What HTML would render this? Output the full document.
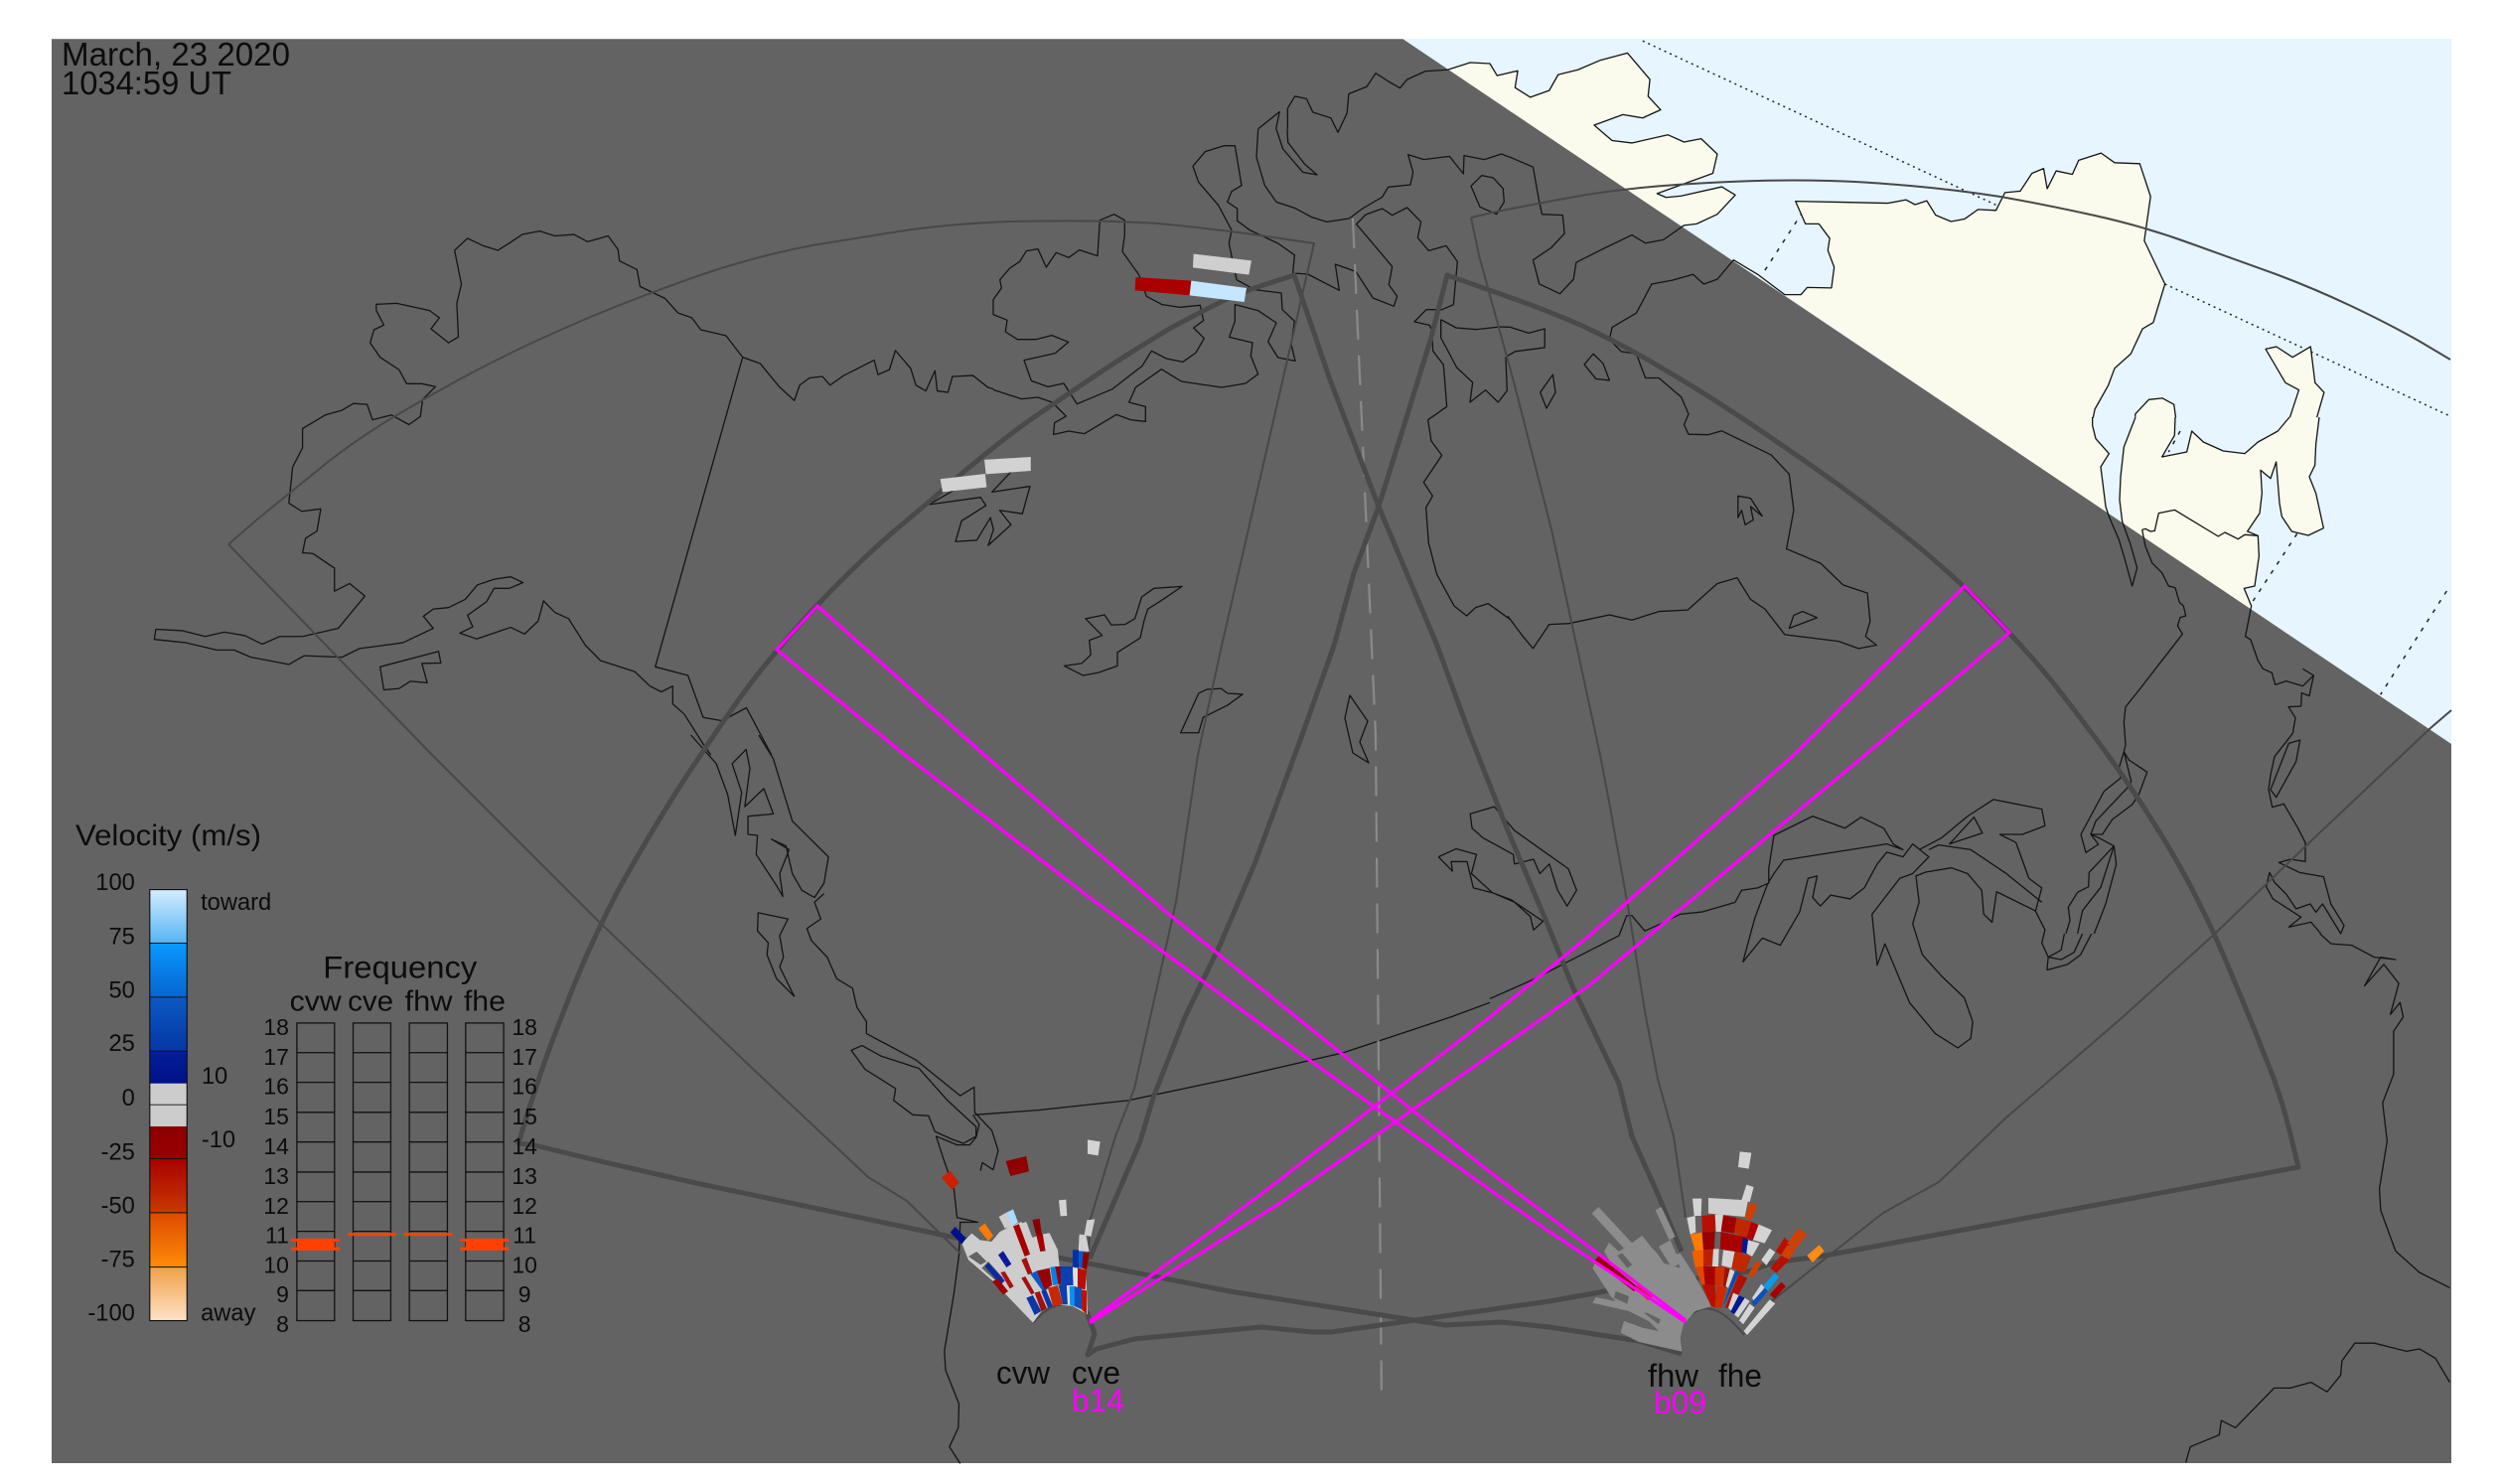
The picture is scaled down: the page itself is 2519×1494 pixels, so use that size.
<!DOCTYPE html>
<html><head><meta charset="utf-8"><style>
html,body{margin:0;padding:0;background:#fff}
svg{display:block;font-family:"Liberation Sans",sans-serif}
.c{fill:none;stroke:#141414;stroke-width:1.3;vector-effect:non-scaling-stroke;stroke-linejoin:round}
.d{fill:none;stroke:#222;stroke-width:1.5;vector-effect:non-scaling-stroke}
.t{fill:none;stroke:#484848;stroke-width:2;stroke-linejoin:round}
.k{fill:none;stroke:#4a4a4a;stroke-width:5;stroke-linejoin:round}
.m{fill:none;stroke:#ff00ff;stroke-width:3.2;stroke-linejoin:miter}
text{fill:#0c0c0c}
</style></head><body>
<svg width="2519" height="1494" viewBox="0 0 2519 1494" xmlns="http://www.w3.org/2000/svg">
<defs>
<linearGradient id="a1" x1="0" y1="0" x2="0" y2="1"><stop offset="0" stop-color="#d4edff"/><stop offset="1" stop-color="#55b4f2"/></linearGradient>
<linearGradient id="a2" x1="0" y1="0" x2="0" y2="1"><stop offset="0" stop-color="#0a98ff"/><stop offset="1" stop-color="#0666cf"/></linearGradient>
<linearGradient id="a3" x1="0" y1="0" x2="0" y2="1"><stop offset="0" stop-color="#0a5ac4"/><stop offset="1" stop-color="#0636a4"/></linearGradient>
<linearGradient id="a4" x1="0" y1="0" x2="0" y2="1"><stop offset="0" stop-color="#021f98"/><stop offset="1" stop-color="#00108a"/></linearGradient>
<linearGradient id="a5" x1="0" y1="0" x2="0" y2="1"><stop offset="0" stop-color="#8c0000"/><stop offset="1" stop-color="#9a0000"/></linearGradient>
<linearGradient id="a6" x1="0" y1="0" x2="0" y2="1"><stop offset="0" stop-color="#a80000"/><stop offset="1" stop-color="#c83a00"/></linearGradient>
<linearGradient id="a7" x1="0" y1="0" x2="0" y2="1"><stop offset="0" stop-color="#de4a00"/><stop offset="1" stop-color="#ff8c08"/></linearGradient>
<linearGradient id="a8" x1="0" y1="0" x2="0" y2="1"><stop offset="0" stop-color="#f0a048"/><stop offset="1" stop-color="#ffe2c6"/></linearGradient>
</defs>
<rect width="2519" height="1494" fill="#fff"/>
<!-- day sea -->
<rect x="52" y="39" width="2416" height="1434" fill="#e6f5ff"/>
<g transform="translate(1100,0) scale(0.905,0.4847)">
<polyline class="d" style="stroke-dasharray:2 4" points="612,85 1010,430"/>
<polyline class="d" style="stroke-dasharray:2 4" points="1193,590 1511,865"/>
<polyline class="d" style="stroke-dasharray:4 7" points="790,440 745,570"/>
<!-- land -->
<polygon fill="#fafbec" points="395,145 420,130 442,132 450,157 473,147 470,182 487,202 508,188 518,155 540,145 565,125 595,110 620,165 618,200 632,228 612,245 590,238 558,260 578,292 600,297 640,280 658,295 677,288 695,320 690,360 628,402 638,410 655,407 700,388 715,405 695,445 672,465 658,468 500,300"/>
<polygon fill="#fafbec" points="713,540 740,570 770,612 788,612 795,597 822,598 825,555 818,520 820,495 808,465 793,465 782,418 835,420 885,422 905,415 915,425 928,417 938,447 955,460 970,455 985,435 1005,437 1015,400 1032,397 1045,360 1058,350 1062,392 1072,355 1090,362 1097,333 1122,318 1137,338 1165,340 1177,408 1170,500 1193,590 1180,670 1168,683 1155,735 1137,765 1130,800 1115,850 1113,870 1090,1016"/>
<polygon fill="#fafbec" points="1160,866 1160,860 1175,830 1190,827 1203,840 1205,867"/>
<polygon fill="#fafbec" points="1332,867 1342,810 1327,795 1305,725 1317,720 1335,742 1355,720 1360,795 1370,815 1362,867"/>
</g>
<g transform="translate(2060,420) scale(0.33333)">
<polyline class="d" style="stroke-dasharray:4 7" points="405,42 370,105"/>
<polyline class="d" style="stroke-dasharray:4 7" points="758,352 625,555"/>
<polyline class="d" style="stroke-dasharray:4 7" points="1210,525 1010,838"/>
<polygon fill="#fafbec" points="0,0 140,0 140,25 150,65 190,110 165,150 180,270 190,300 0,165"/>
<polygon fill="#fafbec" points="270,0 235,90 225,180 222,250 230,315 255,336 620,582 620,570 598,517 630,510 643,420 640,358 608,345 645,290 652,230 648,160 678,185 695,135 705,260 712,300 742,345 792,357 838,335 815,230 795,180 812,145 815,80 825,0 735,0 700,42 640,75 600,110 535,102 475,75 440,42 425,105 350,120 388,55 390,0"/>
</g>
<!-- night -->
<polygon fill="#636363" points="52,39 1412,39 2468,749 2468,1473 52,1473"/>
<line x1="52" y1="39.5" x2="1412" y2="39.5" stroke="#8a8a8a" stroke-width="1"/>
<!-- coasts Z4 -->
<g transform="translate(1100,0) scale(0.905,0.4847)">
<polyline class="c" points="464,326 490,347 497,420 500,445 523,447 525,485 510,515 490,540 497,590 520,610 535,580 538,545 570,515 600,488 615,505 635,498 658,468 672,465 695,445 715,405 700,388 655,407 638,410 628,402 690,360 695,320 677,288 658,295 640,280 600,297 578,292 558,260 590,238 612,245 632,228 618,200 620,165 595,110 565,125 540,145 518,155 508,188 487,202 470,182 473,147 450,157 442,132 420,130 395,145 370,148 350,165 342,183 330,170 315,152 305,180 285,195 283,235 273,275 265,245 245,233 238,205 225,200 217,225 217,268"/>
<polyline class="c" points="204,268 208,232 184,268"/>
<polyline class="c" points="464,679 485,692 503,683 503,722 470,730 464,737"/>
<polyline class="c" points="462,1280 478,1320 490,1347 508,1297 530,1295 575,1277 600,1288 630,1270 662,1267 695,1212 717,1200 732,1245 748,1265 770,1318 830,1332 852,1347 872,1340 860,1322 865,1290 862,1232 835,1215 810,1170 772,1140 780,1060 775,985 755,945 700,895 685,903 663,902 658,882 663,860 655,825 630,785 615,785 605,735 588,730 575,705 578,680 605,650 622,590 645,582 668,570 680,590 695,580 713,540 740,570 770,612 788,612 795,597 822,598 825,555 818,520 820,495 808,465 793,465 782,418 835,420 885,422 905,415 915,425 928,417 938,447 955,460 970,455 985,435 1005,437 1015,400 1032,397 1045,360 1058,350 1062,392 1072,355 1090,362 1097,333 1122,318 1137,338 1165,340 1177,408 1170,500 1193,590 1180,670 1168,683 1155,735 1137,765 1130,800 1115,850 1113,868"/>
<polyline class="c" points="1160,866 1160,860 1175,830 1190,827 1203,840 1205,867"/>
<polyline class="c" points="1332,867 1342,810 1327,795 1305,725 1317,720 1335,742 1355,720 1360,795 1370,815 1362,867"/>
<polygon class="c" points="718,1030 732,1035 745,1072 732,1052 735,1080 726,1090 722,1060 718,1075"/>
<polygon class="c" points="790,1270 806,1283 775,1305 780,1278"/>
<polygon class="c" points="557,735 568,755 575,790 560,787 547,757"/>
<polygon class="c" points="512,778 515,815 505,848 498,815"/>
<polygon class="c" points="98,1522 118,1522 123,1490 150,1465 167,1442 150,1440 143,1430 127,1432 118,1440"/>
</g>
<!-- coasts refined north centre -->
<g transform="translate(1000,130) scale(0.33333)">
<polyline class="c" points="720,305 712,345 735,455 790,485 870,495 873,545 910,580 900,650 912,700 860,690 830,642 855,585 800,548 730,530 730,580 713,628 783,645 778,685 800,740 762,768 690,780 568,762 508,725 430,780 410,825 460,838 460,883 415,878 372,862 275,920 228,912 182,922 185,887 220,867 178,825 135,810 85,815 0,787"/>
<polygon class="c" points="20,455 50,420 80,400 100,368 135,362 160,417 190,373 228,388 260,365 315,383 322,275 365,257 397,275 397,320 390,370 440,440 463,505 510,530 565,538 625,532 635,578 605,600 637,632 612,675 573,703 523,693 478,670 450,715 360,785 253,830 213,768 165,778 115,760 93,698 187,677 227,643 177,623 130,635 73,635 37,612 42,577 0,560 0,515 25,480"/>
<polyline class="c" points="720,305 680,230 620,160 603,112 640,68 698,50 730,50 750,170 720,188 707,220 737,240 737,277 775,305 860,345 910,380 905,435 950,438 1045,487 1033,408 1095,430 1147,510 1210,535 1220,505 1195,470 1205,415 1097,287 1125,258 1175,240 1205,260 1250,237 1292,280 1282,328 1315,367 1368,352 1402,400 1390,530 1355,545 1308,545 1272,582 1318,592 1325,610 1328,670 1360,712 1370,838 1313,878 1323,942 1355,985 1300,1067 1327,1108 1307,1143 1315,1250 1340,1345 1392,1440 1430,1470 1457,1445 1495,1433 1560,1480"/>
<polyline class="c" points="800,0 795,85 820,170 855,220 910,238 960,265 1007,280 1075,270 1115,240 1175,205 1193,175 1260,168 1268,130 1253,77 1300,92 1378,82 1420,135 1422,80 1483,92 1535,75 1560,85"/>
<polyline class="c" points="855,0 875,60 935,130 978,138 940,105 890,40 888,0"/>
<polygon class="c" points="1443,172 1475,140 1510,147 1540,180 1543,220 1520,257 1470,235"/>
<polyline class="c" points="1352,575 1398,600 1460,605 1530,597 1560,598"/>
<polyline class="c" points="1352,575 1352,630 1400,720 1448,765 1440,825 1487,788 1525,825 1552,790 1548,690 1560,680"/>
</g>
<!-- coasts Z5 -->
<g transform="scale(0.7653,0.4847)">
<polyline class="c" points="205,1307 240,1310 270,1322 295,1313 322,1320 345,1338 368,1322 398,1322 445,1305 480,1238 460,1212 440,1228 440,1180 412,1150 398,1148 402,1118 417,1103 422,1057 397,1062 380,1045 385,970 398,930 398,890 428,862 450,852 465,838 483,840 490,872 515,862 538,882 553,865 556,830 573,803 555,797 535,797 525,768 500,742 487,712 492,685 505,675 495,645 495,632 522,630 565,645 578,660 567,683 590,712 603,700 601,630 607,590 598,520 615,495 635,510 655,520 670,505 687,487 710,480 730,490 755,487 773,502 800,490 813,518 815,542 838,560 842,595 875,620 892,650 910,660 922,685 955,697 977,742 1000,755 1025,803 1045,832 1052,800 1065,785 1082,782 1092,800 1110,780 1150,748 1155,778 1170,768 1178,728 1198,765 1205,800 1218,812 1230,770 1233,812 1247,815 1253,782 1280,780 1300,805 1307,808"/>
<polyline class="c" points="977,742 862,1385 905,1403 925,1490 950,1497 982,1470 1015,1568"/>
<polyline class="c" points="205,1307 203,1328 245,1335 285,1350 308,1350 330,1365 380,1380 400,1362 450,1365 473,1347 530,1335 570,1305 557,1280 570,1265 590,1262 612,1245 628,1215 650,1203 672,1198 688,1210 670,1222 650,1222 640,1250 615,1278 622,1302 605,1315 627,1327 672,1303 690,1317 708,1290 715,1248 730,1272 748,1285 770,1340 790,1372 835,1395 855,1425 870,1437 885,1425 885,1462 900,1483 925,1545 935,1568"/>
<polygon class="c" points="500,1385 577,1353 580,1377 555,1378 562,1418 540,1415 525,1430 505,1433"/>
<polygon class="c" points="1400,1383 1423,1378 1435,1360 1433,1330 1450,1320 1428,1285 1453,1277 1462,1298 1480,1297 1493,1285 1502,1240 1518,1222 1555,1218 1530,1245 1510,1265 1505,1290 1500,1325 1470,1355 1470,1383 1445,1397 1425,1403"/>
<polyline class="c" points="1222,1048 1290,1033 1297,1050 1265,1082 1257,1125 1285,1122 1303,1075 1307,1100 1300,1133 1330,1090 1315,1060 1345,1067 1355,1010 1305,1022 1330,980"/>
<polyline class="c" points="1222,1048 1275,1000"/>
</g>
<polygon class="c" points="1359,700 1377,726 1369,747 1378,768 1362,758 1354,723"/>
<!-- coasts Z6 -->
<g transform="translate(600,740) scale(0.6378,0.4809)">
<polyline class="c" points="150,0 190,60 208,125 220,210 230,120 215,60 237,30 243,70 235,150 265,112 280,165 240,170 240,208 255,210 253,250 285,315 295,338 290,290 305,240 277,218 300,232 310,290 325,325 345,340 360,310 367,255 310,180 280,50 257,0"/>
<polyline class="c" points="360,332 345,350 355,385 333,405 340,430 365,465 380,510 405,530 412,570 427,600 427,625 505,680 575,755 597,737 598,790 625,828 635,870 627,910 610,895 607,912"/>
<polygon class="c" points="403,660 420,650 450,672 510,698 555,765 600,820 600,840 580,855 560,845 535,830 525,797 500,795 470,765 473,740 425,700"/>
<polyline class="c" points="595,795 605,815 600,842 590,858 570,858 537,840 548,885 565,950 570,1010 603,1020 575,1020 573,1090 565,1170 550,1290 552,1330 573,1400 572,1450 558,1490 575,1525"/>
<polygon class="c" points="256,372 303,385 290,420 296,465 290,485 313,547 285,510 270,460 272,435 255,410"/>
<polygon class="c" points="1380,165 1418,150 1450,200 1535,280 1548,325 1533,358 1518,325 1505,270 1490,290 1480,260 1450,270 1448,250 1400,215 1383,195"/>
<polyline class="c" points="1330,255 1358,238 1390,250 1382,290 1415,330 1445,345 1495,390 1480,408 1475,380 1450,350 1415,330 1385,320 1375,265 1350,265 1352,285 1330,255"/>
<polyline class="c" points="598,795 700,785 840,765 1000,720 1180,665 1350,590 1411,560"/>
</g>
<!-- coasts Z7 -->
<g transform="translate(1500,740) scale(0.6499,0.4809)">
<polyline class="c" points="0,552 70,510 120,475 200,420 212,378 220,378 240,410 265,395 295,375 330,370 380,350 390,325 415,320 432,310 432,280 440,210 500,170 550,195 575,172 610,195 625,228 640,240 615,228 455,262 440,290 430,312 410,385 392,475 422,425 450,440 480,370 493,300 507,295 500,340 512,358 528,335 558,343 580,320 600,270 615,245 640,255 655,228 680,255 655,290 635,300 592,375 600,482 612,437 650,560 690,625 725,655 745,635 748,600 735,550 700,505 670,460 655,395 665,350 660,295 675,287 715,278 740,290 762,325 765,375 778,392 785,328 845,368 860,408 855,435 865,465 885,470 905,455 918,416"/>
<polyline class="c" points="665,240 700,215 740,170 780,135 855,155 860,190 825,208 790,208 815,225 835,300 855,320 845,370"/>
<polyline class="c" points="680,240 695,230 745,240 800,290 855,350"/>
<polygon class="c" points="712,228 750,172 763,205"/>
<polyline class="c" points="863,492 895,480 915,460 932,416"/>
<polyline class="c" points="863,492 865,465 885,450 890,416"/>
<polyline class="c" points="1286,416 1303,437 1335,440 1370,465 1403,470 1380,465 1355,525 1385,480 1408,520 1395,585 1410,560 1415,590 1400,620 1400,710 1383,770 1390,850 1378,950 1380,995 1403,1080 1440,1125 1487,1157"/>
<polyline class="c" points="1078,1523 1085,1490 1130,1465 1133,1435 1155,1450 1215,1367 1240,1367 1272,1355 1297,1375 1318,1340 1320,1310 1340,1273 1370,1273 1420,1290 1440,1285 1465,1305 1487,1355"/>
</g>
<!-- coasts east refined -->
<g transform="translate(2060,420) scale(0.33333)">
<polyline class="c" points="140,0 140,25 150,65 190,110 165,150 180,270 190,300 220,370 235,420 260,510 275,455 255,385 230,315 222,250 225,180 235,90 270,0"/>
<polyline class="c" points="290,340 300,337 315,345 328,343 340,290 388,280 520,360 540,348 580,368 600,355 640,358 608,345 645,290 652,230 648,160 678,185 695,135 705,260 712,300 742,345 792,357 838,335 815,230 795,180 812,145 815,80 825,0"/>
<polyline class="c" points="390,0 388,55 350,120 425,105 440,42 475,75 535,102 600,110 640,75 700,42 735,0"/>
<polyline class="c" points="640,358 643,420 630,510 598,517 620,570 602,662 618,672 640,735 655,760 682,772 692,808 725,797 775,812 808,780 775,760"/>
<polyline class="c" points="808,780 795,842 772,833 770,873 732,875 753,908 745,955 690,1025 678,1080 672,1125 683,1178 718,1168 760,1240 783,1285 783,1342 738,1335 703,1345 765,1375 838,1388 860,1470 900,1535 890,1560 835,1470 815,1495 798,1470 755,1485 725,1440 690,1405 675,1375 665,1418 685,1455 770,1510 733,1540 800,1525 830,1560"/>
<polygon class="c" points="733,985 767,975 755,1040 695,1148 678,1125"/>
<polyline class="c" points="290,340 300,390 320,440 350,470 370,510 390,515 403,560 415,570 422,600 405,605 397,630 412,655 280,825 240,875 235,920 240,990 235,1010 220,1060 225,1090 175,1130 105,1260 120,1315 158,1290 135,1260 150,1220 245,1120 257,1100 235,1010 250,1035 305,1072 280,1140 260,1170 200,1215 170,1260 135,1260 158,1270 205,1295 130,1375 128,1418 95,1435 67,1480 72,1520 60,1560"/>
<polyline class="c" points="205,1295 165,1420 110,1490 95,1560"/>
<polyline class="c" points="205,1295 212,1350 180,1470 145,1560"/>
</g>
<!-- dashed center -->
<polyline points="1362,220 1385,741 1391,1413" fill="none" stroke="#8a8a8a" stroke-width="2.2" stroke-dasharray="30 16"/>
<!-- thin FOV -->
<path class="t" d="M230,548 L260,522 Q291,497 329,466 Q367,436 413,410 Q459,383 497,364 Q536,344 597,318 Q658,293 711,275 Q765,257 818,247 Q872,238 918,231 Q964,225 1015,223 Q1067,222 1100,222.5 Q1133,223 1166,225 Q1200,228 1262,236 L1323,245 L1230,650 L1206,760 L1184,908 L1142,1096 L1123,1144 L1097,1230 L1096,1269"/>
<polyline class="t" points="230,548 435,760 600,925 759,1077 874,1185 913,1209 967,1262"/>
<path class="t" d="M1481,219 L1507,213 Q1552,204 1597,196 Q1643,189 1688,186 Q1733,183 1770,182 Q1806,181 1842,182 Q1878,183 1923,187 Q1969,191 2014,198 Q2059,206 2109,217 Q2159,228 2208,246 Q2258,264 2294,277 Q2331,291 2367,308 Q2403,325 2435,343 L2467,362"/>
<polyline class="t" points="1481,219 1489,257 1525,388 1562,533 1611,760 1620,807 1640,918 1656,1018 1669,1086 1685,1144 1697,1226"/>
<polyline class="t" points="2468,715 2447,733 2320,853 2230,940 2137,1024 2020,1125 1952,1190 1896,1221 1844,1262 1786,1308 1757,1341"/>
<path class="t" d="M1040,1332 Q1066,1300 1097,1322"/>
<path class="t" d="M1693,1362 Q1678,1330 1703,1323 Q1725,1305 1756,1344"/>
<!-- thick FOV -->
<path class="k" d="M1693,1363 L1650,1350 L1560,1336 L1512,1331 L1455,1334 L1238,1300 L1091,1271 L957,1245 L696,1190 L600,1168 L538,1153 L522,1151 L529,1128 Q536,1105 549,1067 Q563,1029 581,984 Q600,939 622,897 Q645,855 681,797 Q718,740 749,697 Q781,654 823,609 Q865,565 901,534 Q937,504 968,477 Q1000,450 1031,427 Q1063,405 1106,376 Q1150,347 1181,329 Q1213,312 1233,302 Q1253,293 1278,285 L1303,277 L1340,385 L1388,510 L1447,650 L1480,740 L1518,836 L1557,928 L1584,995 L1630,1091 L1643,1144 L1669,1202 L1693,1260"/>
<path class="k" d="M1095,1323 L1102,1343 L1095,1364 L1104,1358 L1142,1348 L1270,1336 L1321,1341 L1340,1341 L1560,1310 L1627,1298 L1760,1280 L1786,1271 L1838,1264 L2314,1175 L2305,1138 Q2296,1101 2281,1065 Q2267,1029 2248,984 Q2230,940 2211,903 Q2193,867 2163,820 Q2133,773 2096,725 Q2060,677 2041,657 Q2023,637 2000,613 Q1978,590 1937,555 Q1896,521 1851,488 Q1806,456 1760,425 Q1715,395 1674,371 Q1634,347 1593,328 Q1552,310 1505,294 L1457,277 L1440,343 L1413,430 L1388,510 L1363,577 L1343,650 L1311,740 L1263,870 L1228,952 L1193,1024 L1161,1105 L1148,1149 L1097,1267"/>
<!-- top bars -->
<g transform="translate(1100,220) scale(0.3333)">
<polygon fill="#cfcfcf" points="305,107 480,127 472,170 303,148"/>
<polygon fill="#aa0000" points="130,177 298,188 293,232 128,217"/>
<polygon fill="#c4e6ff" points="298,188 465,210 458,252 293,232"/>
</g>
<g transform="scale(0.7653,0.4847)" fill="#d2d2d2">
<polygon points="1237,995 1296,984 1298,1012 1240,1022"/>
<polygon points="1295,955 1356,949 1356,978 1297,985"/>
</g>
<!-- CV cluster -->
<g transform="translate(900,1100) scale(0.3333)">
<polygon fill="#cdcdcd" points="420,695 300,570 225,505 205,455 235,425 260,445 295,450 320,420 360,400 385,390 410,440 450,428 470,424 495,475 500,525 580,525 585,670 540,645 490,640 450,655"/>
<polygon fill="#636363" points="225,495 250,480 280,510 262,520"/>
<polygon fill="#636363" points="265,530 285,510 330,560 310,570"/>
<polygon fill="#00108a" points="170,422 185,405 218,440 205,458"/>
<polygon fill="#ff7a00" points="255,410 275,395 300,432 285,448"/>
<polygon fill="#cdcdcd" points="317,375 340,362 360,405 335,410"/>
<polygon fill="#a8dcff" points="340,362 360,352 375,392 358,402"/>
<polygon fill="#a80000" points="360,403 378,397 412,488 395,495"/>
<polygon fill="#cdcdcd" points="378,397 400,390 430,470 412,490"/>
<polygon fill="#8a0000" points="418,385 440,380 447,430 430,430"/>
<polygon fill="#a80000" points="430,430 450,428 458,478 442,480"/>
<polygon fill="#cdcdcd" points="450,428 468,424 475,470 458,478"/>
<polygon fill="#cdcdcd" points="475,475 490,472 498,525 485,525"/>
<polygon fill="#d2d2d2" points="498,325 520,323 523,372 503,373"/>
<polygon fill="#d4d4d4" points="585,142 623,148 617,190 585,185"/>
<polygon fill="#900000" points="338,207 400,192 408,238 352,252"/>
<polygon fill="#cc2000" points="144,257 170,236 197,272 175,293"/>
<polygon fill="#d0d0d0" points="583,385 607,382 595,435 575,430"/>
<polygon fill="#d0d0d0" points="560,428 580,430 590,480 557,478"/>
<polygon fill="#0030a8" points="540,475 558,475 558,530 540,528"/>
<polygon fill="#0a58c8" points="558,478 575,480 572,530 558,530"/>
<polygon fill="#8a0000" points="572,482 590,485 582,535 568,530"/>
<polygon fill="#0a1a9a" points="315,490 330,478 355,518 340,528"/>
<polygon fill="#0a2aa0" points="275,525 285,513 335,568 322,580"/>
<polygon fill="#a81010" points="322,543 335,540 362,585 350,592"/>
<polygon fill="#9a0000" points="297,570 315,562 345,600 330,610"/>
<polygon fill="#a81010" points="385,505 400,498 418,545 405,550"/>
<polygon fill="#a01010" points="385,560 397,555 425,605 415,610"/>
<polygon fill="#0a58c8" points="412,548 432,538 470,590 450,600"/>
<polygon fill="#990000" points="432,538 470,530 478,582 455,595"/>
<polygon fill="#0a80e0" points="472,527 492,525 497,580 480,582"/>
<polygon fill="#900000" points="487,525 505,525 505,582 497,580"/>
<polygon fill="#0a40b0" points="502,525 540,525 542,582 505,582"/>
<polygon fill="#e0e0e0" points="540,527 555,530 555,585 542,582"/>
<polygon fill="#b81000" points="555,530 582,535 578,595 555,590"/>
<polygon fill="#0a38a8" points="400,620 420,612 445,660 425,672"/>
<polygon fill="#a01010" points="425,605 440,600 462,652 445,660"/>
<polygon fill="#0a38a8" points="445,600 458,592 480,645 465,650"/>
<polygon fill="#c82800" points="465,590 495,582 510,640 480,645"/>
<polygon fill="#0a40b0" points="497,582 522,582 525,640 510,640"/>
<polygon fill="#e0e0e0" points="522,584 530,585 532,642 525,640"/>
<polygon fill="#0a90f0" points="530,585 545,585 545,645 532,642"/>
<polygon fill="#0a50c0" points="545,585 567,592 567,655 545,645"/>
<polygon fill="#c01000" points="567,595 582,598 582,670 567,655"/>
</g>
<!-- FH cluster -->
<g transform="translate(1560,1120) scale(0.3333)">
<g fill="#8c8c8c">
<polygon points="400,722 270,693 215,665 225,630 280,650 330,660 300,630 240,600 130,575 140,558 200,570 185,555 130,470 140,450 195,470 165,420 180,393 210,420 240,400 280,372 310,410 325,425 345,455 395,470 380,430 395,425 437,490 490,585 440,600 405,640 395,680"/>
<polygon points="128,305 148,285 250,395 225,410"/>
<polygon points="320,295 338,285 380,375 362,385"/>
<polygon points="330,405 365,385 395,455 370,470"/>
</g>
<polygon fill="#636363" points="205,432 220,425 250,460 235,470"/>
<polygon fill="#636363" points="285,605 295,605 335,625 330,640"/>
<polygon fill="#636363" points="200,540 240,555 235,578 195,560"/>
<polygon fill="#9a0000" points="135,448 150,432 270,530 255,540"/>
<polygon fill="#c83000" points="255,530 270,520 312,555 298,568"/>
<polygon fill="#f05a00" points="355,600 368,590 410,625 403,635"/>
<polygon fill="#d4d4d4" points="575,118 610,122 602,170 570,165"/>
<polygon fill="#d4d4d4" points="595,218 617,225 605,270 580,265"/>
<polygon fill="#d4d4d4" points="432,260 460,260 458,312 437,312"/>
<polygon fill="#cfcfcf" points="480,258 600,265 590,315 480,305"/>
<polygon fill="#d04000" points="605,272 628,280 610,325 590,318"/>
<polygon fill="#d4d4d4" points="415,318 440,312 442,362 425,368"/>
<polygon fill="#b81000" points="460,312 502,308 500,360 462,362"/>
<polygon fill="#d4d4d4" points="500,308 525,308 520,360 503,360"/>
<polygon fill="#a00000" points="525,310 565,318 558,365 518,358"/>
<polygon fill="#c02800" points="565,318 610,330 595,378 558,365"/>
<polygon fill="#b00000" points="610,330 632,340 612,388 595,378"/>
<polygon fill="#d4d4d4" points="632,338 672,355 650,395 615,385"/>
<polygon fill="#ff7a00" points="425,368 460,362 465,415 440,418"/>
<polygon fill="#990000" points="462,362 500,360 498,412 465,415"/>
<polygon fill="#a80000" points="518,360 600,378 585,425 515,412"/>
<polygon fill="#001a90" points="585,378 612,388 595,428 580,420"/>
<polygon fill="#d4d4d4" points="600,385 635,395 612,435 595,425"/>
<polygon fill="#f06000" points="430,418 465,415 465,465 440,468"/>
<polygon fill="#c02000" points="465,415 495,412 490,462 465,465"/>
<polygon fill="#d4d4d4" points="495,412 512,412 510,465 492,465"/>
<polygon fill="#d4d4d4" points="525,415 560,420 550,470 520,462"/>
<polygon fill="#c02800" points="560,420 610,435 590,485 550,470"/>
<polygon fill="#e04800" points="440,468 465,465 470,520 460,520"/>
<polygon fill="#a80000" points="465,465 500,465 500,522 470,520"/>
<polygon fill="#cc3000" points="500,465 530,465 525,525 500,522"/>
<polygon fill="#a01000" points="530,468 545,472 535,530 525,525"/>
<polygon fill="#d4d4d4" points="545,472 560,480 540,530 532,525"/>
<polygon fill="#b01000" points="572,488 598,500 550,590 530,590"/>
<polygon fill="#0a48b8" points="560,480 572,485 535,565 522,590"/>
<polygon fill="#b81000" points="460,520 500,522 505,590 488,585"/>
<polygon fill="#d02800" points="505,522 535,530 520,590 500,588"/>
<polygon fill="#d4d4d4" points="555,545 572,552 550,600 540,590"/>
<polygon fill="#001a90" points="572,552 590,560 560,610 547,602"/>
<polygon fill="#d4d4d4" points="590,560 605,570 570,620 558,610"/>
<polygon fill="#d4d4d4" points="605,578 620,590 585,640 573,628"/>
<polygon fill="#d4d4d4" points="612,560 640,518 650,528 620,572"/>
<polygon fill="#0a50c0" points="610,575 650,530 660,540 620,585"/>
<polygon fill="#0a9af0" points="645,525 680,485 693,497 660,538"/>
<polygon fill="#a80000" points="665,550 700,512 714,525 680,562"/>
<polygon fill="#d4d4d4" points="587,660 665,565 682,577 597,672"/>
<polygon fill="#ff8c10" points="778,432 815,400 830,418 795,453"/>
<polygon fill="#b81000" points="683,420 710,378 728,395 700,430"/>
<polygon fill="#d04000" points="718,395 752,350 778,368 745,410"/>
<polygon fill="#d04000" points="700,430 718,400 745,410 725,445"/>
<polygon fill="#b81000" points="667,470 700,432 725,445 685,485"/>
<polygon fill="#d4d4d4" points="640,445 665,410 682,422 655,462"/>
<polygon fill="#d04000" points="600,490 625,447 640,457 613,500"/>
</g>
<!-- magenta beams -->
<polyline class="m" points="1097,1330 1270,1202 1500,1024 1600,942 1806,760 1978,590 2023,637 1878,760 1600,992 1289,1211 1097,1332"/>
<polyline class="m" points="1697,1329 1560,1225 1500,1180 1346,1057 1174,918 991,760 823,610 782,654 911,760 1091,899 1318,1067 1506,1202 1560,1240 1697,1331"/>
<!-- radar labels -->
<text x="1003" y="1393" font-size="32" textLength="54" lengthAdjust="spacingAndGlyphs">cvw</text>
<text x="1079" y="1393" font-size="32" textLength="49" lengthAdjust="spacingAndGlyphs">cve</text>
<text x="1079" y="1421" font-size="32" textLength="53" lengthAdjust="spacingAndGlyphs" style="fill:#ff00ff">b14</text>
<text x="1659" y="1396" font-size="32" textLength="51" lengthAdjust="spacingAndGlyphs">fhw</text>
<text x="1730" y="1396" font-size="32" textLength="44" lengthAdjust="spacingAndGlyphs">fhe</text>
<text x="1665" y="1423" font-size="32" textLength="53" lengthAdjust="spacingAndGlyphs" style="fill:#ff00ff">b09</text>
<!-- date -->
<text x="62" y="66" font-size="33" textLength="230" lengthAdjust="spacingAndGlyphs">March, 23 2020</text>
<text x="62" y="95" font-size="33" textLength="171" lengthAdjust="spacingAndGlyphs">1034:59 UT</text>
<!-- legend -->
<text x="76" y="851" font-size="30" textLength="187" lengthAdjust="spacingAndGlyphs">Velocity (m/s)</text>
<g transform="translate(0,780) scale(0.3827)">
<rect x="394" y="302" width="98" height="141" fill="url(#a1)"/>
<rect x="394" y="443" width="98" height="142" fill="url(#a2)"/>
<rect x="394" y="585" width="98" height="142" fill="url(#a3)"/>
<rect x="394" y="727" width="98" height="85" fill="url(#a4)"/>
<rect x="394" y="812" width="98" height="113" fill="#cccccc"/>
<rect x="394" y="925" width="98" height="85" fill="url(#a5)"/>
<rect x="394" y="1010" width="98" height="142" fill="url(#a6)"/>
<rect x="394" y="1152" width="98" height="143" fill="url(#a7)"/>
<rect x="394" y="1295" width="98" height="141" fill="url(#a8)"/>
<rect x="394" y="302" width="98" height="1134" fill="none" stroke="#111" stroke-width="3"/>
<g stroke="#111" stroke-width="2.5">
<line x1="394" x2="492" y1="443" y2="443"/><line x1="394" x2="492" y1="585" y2="585"/><line x1="394" x2="492" y1="727" y2="727"/><line x1="394" x2="492" y1="868" y2="868"/><line x1="394" x2="492" y1="1010" y2="1010"/><line x1="394" x2="492" y1="1152" y2="1152"/><line x1="394" x2="492" y1="1295" y2="1295"/>
</g>
<g font-size="62" text-anchor="end">
<text x="355" y="303">100</text><text x="355" y="445">75</text><text x="355" y="586">50</text><text x="355" y="727">25</text><text x="355" y="870">0</text><text x="355" y="1012">-25</text><text x="355" y="1153">-50</text><text x="355" y="1295">-75</text><text x="355" y="1436">-100</text>
</g>
<g font-size="62">
<text x="528" y="355">toward</text><text x="530" y="812">10</text><text x="530" y="980">-10</text><text x="528" y="1436">away</text>
</g>
<text x="850" y="535" font-size="82" textLength="405" lengthAdjust="spacingAndGlyphs">Frequency</text>
<g font-size="76">
<text x="762" y="620" textLength="136" lengthAdjust="spacingAndGlyphs">cvw</text>
<text x="915" y="620" textLength="120" lengthAdjust="spacingAndGlyphs">cve</text>
<text x="1065" y="620" textLength="125" lengthAdjust="spacingAndGlyphs">fhw</text>
<text x="1220" y="620" textLength="110" lengthAdjust="spacingAndGlyphs">fhe</text>
</g>
<g stroke="#111" stroke-width="3.4" fill="none">
<rect x="781" y="653" width="99" height="783"/><rect x="929" y="653" width="99" height="783"/><rect x="1077" y="653" width="100" height="783"/><rect x="1225" y="653" width="100" height="783"/>
<path d="M781 731H880M781 809H880M781 888H880M781 966H880M781 1045H880M781 1123H880M781 1201H880M781 1279H880M781 1357H880"/>
<path d="M929 731H1028M929 809H1028M929 888H1028M929 966H1028M929 1045H1028M929 1123H1028M929 1201H1028M929 1279H1028M929 1357H1028"/>
<path d="M1077 731H1177M1077 809H1177M1077 888H1177M1077 966H1177M1077 1045H1177M1077 1123H1177M1077 1201H1177M1077 1279H1177M1077 1357H1177"/>
<path d="M1225 731H1325M1225 809H1325M1225 888H1325M1225 966H1325M1225 1045H1325M1225 1123H1325M1225 1201H1325M1225 1279H1325M1225 1357H1325"/>
</g>
<g fill="#ff4000">
<rect x="766" y="1220" width="128" height="8"/><rect x="781" y="1220" width="99" height="31"/><rect x="766" y="1243" width="128" height="8"/>
<rect x="1210" y="1220" width="129" height="8"/><rect x="1225" y="1220" width="100" height="31"/><rect x="1210" y="1243" width="129" height="8"/>
<rect x="915" y="1205" width="128" height="8"/><rect x="1062" y="1205" width="128" height="8"/>
</g>
<g font-size="60" text-anchor="end">
<text x="760" y="685">18</text><text x="760" y="763">17</text><text x="760" y="840">16</text><text x="760" y="920">15</text><text x="760" y="998">14</text><text x="760" y="1077">13</text><text x="760" y="1155">12</text><text x="760" y="1232">11</text><text x="760" y="1311">10</text><text x="760" y="1388">9</text><text x="760" y="1466">8</text>
</g>
<g font-size="60" text-anchor="middle">
<text x="1380" y="685">18</text><text x="1380" y="763">17</text><text x="1380" y="840">16</text><text x="1380" y="920">15</text><text x="1380" y="998">14</text><text x="1380" y="1077">13</text><text x="1380" y="1155">12</text><text x="1380" y="1232">11</text><text x="1380" y="1311">10</text><text x="1380" y="1388">9</text><text x="1380" y="1466">8</text>
</g>
</g>
</svg>
</body></html>
